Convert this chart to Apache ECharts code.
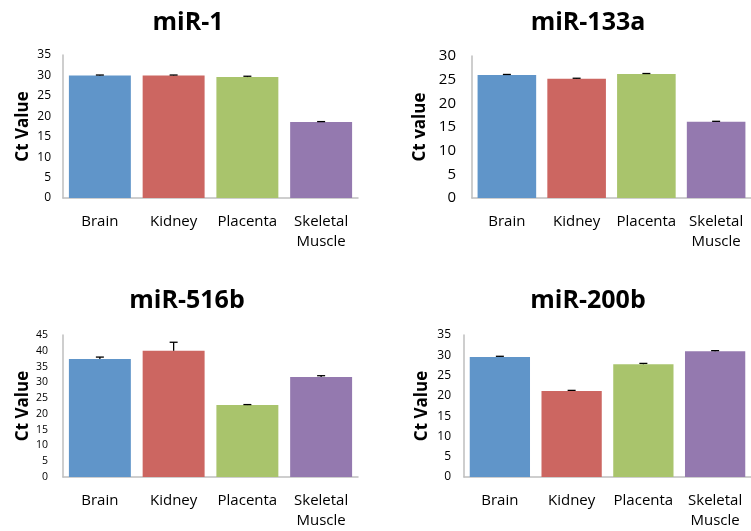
<!DOCTYPE html>
<html>
<head>
<meta charset="utf-8">
<script src="https://cdn.jsdelivr.net/npm/echarts@6/dist/echarts.min.js"></script>
<style>
  html, body { margin: 0; padding: 0; background: #fff; }
  #chart { width: 751px; height: 531px; }
</style>
</head>
<body>
<div id="chart"></div>
<script>
// Tissue categories shared by all four panels
const tissues = ['Brain', 'Kidney', 'Placenta', 'Skeletal\nMuscle'];
const barColors = ['#6095C9', '#CC6661', '#A9C46C', '#9479AF'];

// Mean Ct values and upper error (SD) per microRNA
const mir1Ct = [30.0, 30.0, 29.6, 18.6];
const mir1Err = [0.1, 0.1, 0.2, 0.1];
const mir133aCt = [26.0, 25.2, 26.2, 16.1];
const mir133aErr = [0.1, 0.1, 0.1, 0.1];
const mir516bCt = [37.4, 40.0, 22.8, 31.7];
const mir516bErr = [0.6, 2.7, 0.15, 0.4];
const mir200bCt = [29.6, 21.2, 27.8, 31.0];
const mir200bErr = [0.15, 0.15, 0.2, 0.15];

// Panel titles, y-axis names and y-axis ranges
const panelTitles = ['miR-1', 'miR-133a', 'miR-516b', 'miR-200b'];
const yNames = ['Ct Value', 'Ct value', 'Ct Value', 'Ct Value'];
const yMax = [35, 30, 45, 35];
const yStep = [5, 5, 5, 5];

const panels = [
  { ct: mir1Ct, err: mir1Err, grid: { left: 63, top: 55, width: 295, height: 143 }, tickFont: 12, tickMargin: 12, titleX: 183, titleY: 5, nameX: 23 },
  { ct: mir133aCt, err: mir133aErr, grid: { left: 472, top: 56, width: 288, height: 142 }, tickFont: 15, tickMargin: 16, titleX: 583, titleY: 5, nameX: 420 },
  { ct: mir516bCt, err: mir516bErr, grid: { left: 63, top: 335, width: 295, height: 142 }, tickFont: 10.5, tickMargin: 15, titleX: 182, titleY: 283, nameX: 23 },
  { ct: mir200bCt, err: mir200bErr, grid: { left: 464, top: 335, width: 296, height: 142 }, tickFont: 12, tickMargin: 13, titleX: 583, titleY: 283, nameX: 422 }
];

const FONT = '"Open Sans", "Noto Sans", sans-serif';
const axisGray = '#BEBEBE';

const option = {
  backgroundColor: '#ffffff',
  animation: false,
  title: [],
  grid: [],
  xAxis: [],
  yAxis: [],
  series: [],
  graphic: []
};

panels.forEach((p, i) => {
  option.title.push({
    text: panelTitles[i],
    left: p.titleX,
    top: p.titleY,
    textAlign: 'center',
    textStyle: { fontFamily: FONT, fontWeight: 'bold', fontSize: 25, color: '#000' }
  });
  option.grid.push(Object.assign({ containLabel: false }, p.grid));
  option.xAxis.push({
    type: 'category',
    gridIndex: i,
    data: tissues,
    axisLine: { show: true, lineStyle: { color: axisGray, width: 1.5 } },
    axisTick: { show: false },
    axisLabel: { fontFamily: FONT, fontSize: 15, color: '#000', margin: 14, lineHeight: 20, interval: 0 }
  });
  option.yAxis.push({
    type: 'value',
    gridIndex: i,
    min: 0,
    max: yMax[i],
    interval: yStep[i],
    splitLine: { show: false },
    axisLine: { show: true, lineStyle: { color: axisGray, width: 1.5 } },
    axisTick: { show: false },
    axisLabel: { fontFamily: FONT, fontSize: p.tickFont, color: '#000', margin: p.tickMargin }
  });
  option.series.push({
    type: 'bar',
    xAxisIndex: i,
    yAxisIndex: i,
    barCategoryGap: '16%',
    data: p.ct.map((v, k) => ({ value: v, itemStyle: { color: barColors[k] } }))
  });
  // Upper error bars with a short cap
  option.series.push({
    type: 'custom',
    xAxisIndex: i,
    yAxisIndex: i,
    z: 5,
    data: p.ct.map((v, k) => [k, v, v + p.err[k]]),
    renderItem: function (params, api) {
      const base = api.coord([api.value(0), api.value(1)]);
      const tip = api.coord([api.value(0), api.value(2)]);
      const style = { stroke: '#000', lineWidth: 1.3 };
      return {
        type: 'group',
        children: [
          { type: 'line', shape: { x1: base[0], y1: base[1], x2: tip[0], y2: tip[1] }, style: style },
          { type: 'line', shape: { x1: tip[0] - 4, y1: tip[1], x2: tip[0] + 4, y2: tip[1] }, style: style }
        ]
      };
    }
  });
  // Rotated y-axis name centred on the axis
  option.graphic.push({
    type: 'text',
    x: p.nameX,
    y: p.grid.top + p.grid.height / 2,
    rotation: Math.PI / 2,
    style: {
      text: yNames[i],
      fontFamily: FONT,
      fontWeight: 'bold',
      fontSize: 17,
      fill: '#000',
      align: 'center',
      verticalAlign: 'middle'
    }
  });
});

const chart = echarts.init(document.getElementById('chart'), null, { renderer: 'canvas' });
chart.setOption(option);
</script>
</body>
</html>
